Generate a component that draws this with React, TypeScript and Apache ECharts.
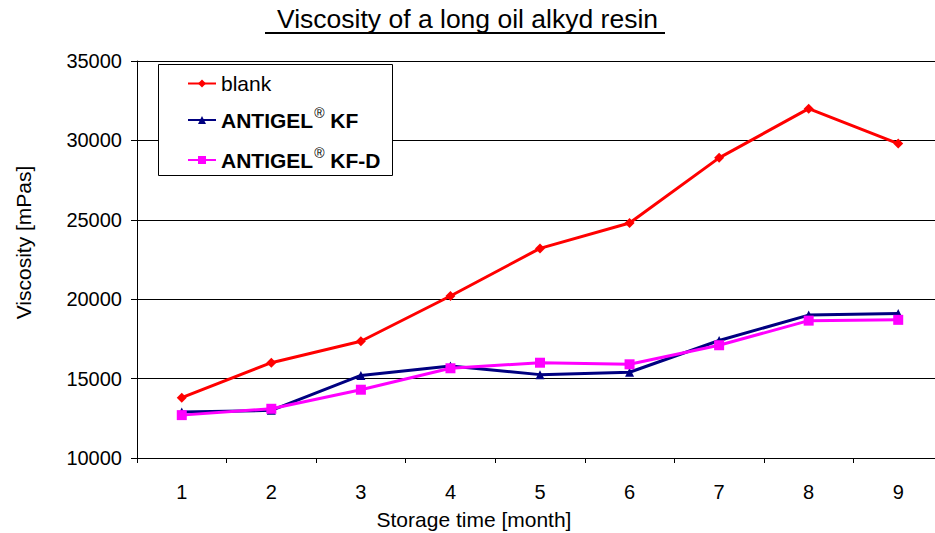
import React, { useEffect, useRef } from "react";
import * as echarts from "echarts";

const months = ["1", "2", "3", "4", "5", "6", "7", "8", "9"];
const blank = [13800, 16000, 17350, 20200, 23200, 24800, 28900, 32000, 29800];
const antigelKF = [12900, 13000, 15200, 15800, 15250, 15400, 17400, 19000, 19100];
const antigelKFD = [12700, 13100, 14300, 15650, 16000, 15900, 17100, 18650, 18700];
const seriesNames = ["blank", "ANTIGEL® KF", "ANTIGEL® KF-D"];
const titleText = "Viscosity of a long oil alkyd resin";
const xName = "Storage time [month]";
const yName = "Viscosity [mPas]";

const FONT = "'Liberation Sans', Arial, sans-serif";

export default function App() {
  const ref = useRef<HTMLDivElement>(null);
  useEffect(() => {
    if (!ref.current) return;
    const chart = echarts.init(ref.current, undefined, { renderer: "svg" });
    const mk = (name: string, data: number[], color: string, symbol: string, size: number) => ({
      name,
      type: "line",
      data,
      symbol,
      symbolSize: size,
      showSymbol: true,
      lineStyle: { color, width: 3 },
      itemStyle: { color, borderWidth: 0 },
      emphasis: { disabled: true },
    });
    chart.setOption({
      animation: false,
      textStyle: { fontFamily: FONT },
      title: {
        text: titleText,
        left: "center",
        top: 5,
        padding: [0, 0, 0, 11],
        textStyle: { fontFamily: FONT, fontSize: 26.5, fontWeight: "normal", color: "#000" },
      },
      graphic: [
        {
          type: "line",
          shape: { x1: 265, y1: 33, x2: 665, y2: 33 },
          style: { stroke: "#000", lineWidth: 2 },
          z: 10,
        },
        {
          type: "rect",
          shape: { x: 158.5, y: 64.5, width: 234, height: 111 },
          style: { fill: "#fff", stroke: "#000", lineWidth: 1 },
          z: 5,
        },
      ],
      legend: {
        orient: "vertical",
        left: 187,
        top: 73,
        padding: 0,
        itemWidth: 28,
        itemHeight: 10,
        itemGap: 12,
        z: 20,
        data: seriesNames,
        formatter: (n: string) => {
          if (n === "blank") return "{n|blank}";
          const rest = n.replace("ANTIGEL® ", "");
          return "{b|ANTIGEL}{s|®}{b| " + rest + "}";
        },
        textStyle: {
          color: "#000",
          fontFamily: FONT,
          fontSize: 21,
          padding: [0, 0, 0, 0],
          rich: {
            n: { fontFamily: FONT, fontSize: 21, color: "#000", lineHeight: 24 },
            b: { fontFamily: FONT, fontSize: 21, fontWeight: "bold", color: "#000", lineHeight: 24 },
            s: { fontFamily: FONT, fontSize: 14, color: "#000", padding: [0, 0, 14, 1], lineHeight: 14 },
          },
        },
      },
      grid: {
        left: 137,
        top: 61,
        width: 806,
        height: 397,
        containLabel: false,
        outerBoundsMode: "none",
      },
      xAxis: {
        type: "category",
        data: months,
        boundaryGap: true,
        name: xName,
        nameLocation: "middle",
        nameGap: 51,
        nameTextStyle: { fontFamily: FONT, fontSize: 21, color: "#000", padding: [0, 132, 0, 0] },
        axisLine: { show: true, lineStyle: { color: "#000", width: 1 } },
        axisTick: { show: true, length: 5, lineStyle: { color: "#000" } },
        axisLabel: { fontFamily: FONT, fontSize: 20, color: "#000", margin: 24 },
        splitLine: { show: false },
      },
      yAxis: {
        type: "value",
        min: 10000,
        max: 35000,
        interval: 5000,
        name: yName,
        nameLocation: "middle",
        nameRotate: 90,
        nameGap: 103,
        nameTextStyle: { fontFamily: FONT, fontSize: 21, color: "#000", padding: [0, 0, 0, 34] },
        axisLine: { show: true, lineStyle: { color: "#000", width: 1 } },
        axisTick: { show: true, length: 6, lineStyle: { color: "#000" } },
        axisLabel: {
          fontFamily: FONT,
          fontSize: 20,
          color: "#000",
          margin: 15,
          formatter: (v: number) => String(v),
        },
        splitLine: { show: true, lineStyle: { color: "#000", width: 1 } },
      },
      series: [
        mk(seriesNames[0], blank, "#FF0000", "diamond", 10),
        mk(seriesNames[1], antigelKF, "#000080", "triangle", 9),
        mk(seriesNames[2], antigelKFD, "#FF00FF", "rect", 10),
      ],
    });
    return () => chart.dispose();
  }, []);
  return (
    <div
      ref={ref}
      style={{ position: "fixed", left: 0, top: 0, width: 935, height: 533, background: "#fff" }}
    />
  );
}
